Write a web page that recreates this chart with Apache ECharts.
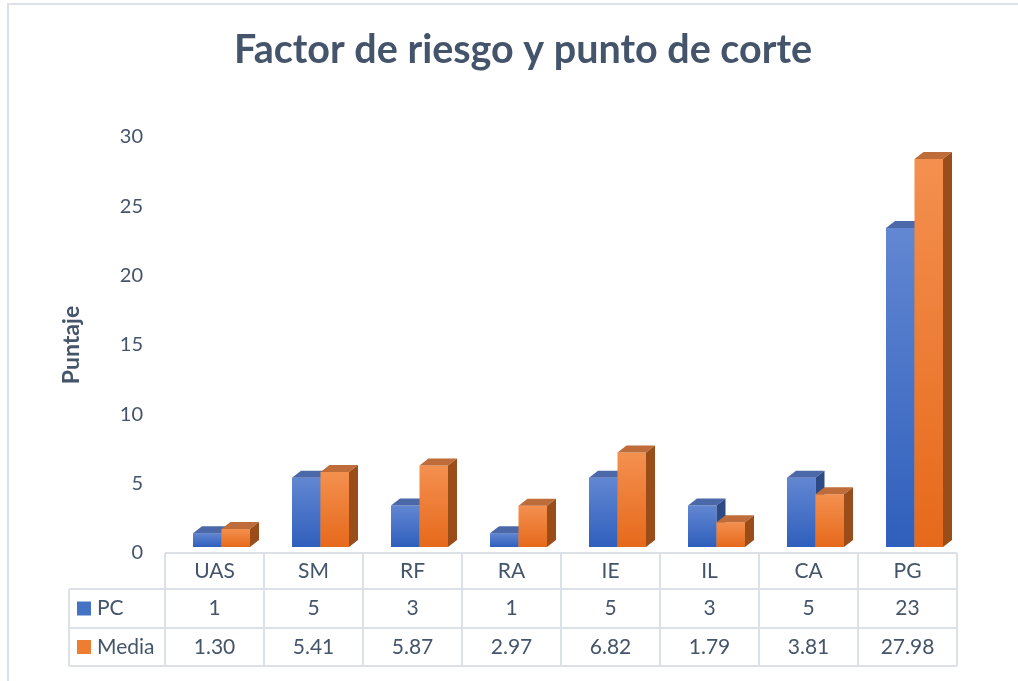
<!DOCTYPE html>
<html>
<head>
<meta charset="utf-8">
<script src="https://cdn.jsdelivr.net/npm/echarts@6/dist/echarts.min.js"></script>
<style>
    html, body { margin: 0; padding: 0; background: #fff; }
    #chart { width: 1018px; height: 681px; }
</style>
</head>
<body>
<div id="chart"></div>
<script>
// datos del gráfico
const categories = ["UAS", "SM", "RF", "RA", "IE", "IL", "CA", "PG"];
const pcValues = [1, 5, 3, 1, 5, 3, 5, 23];
const mediaValues = [1.30, 5.41, 5.87, 2.97, 6.82, 1.79, 3.81, 27.98];
const mediaLabels = ["1.30", "5.41", "5.87", "2.97", "6.82", "1.79", "3.81", "27.98"];
const yTicks = [0, 5, 10, 15, 20, 25, 30];

const textColor = "#44546A";
const lineColor = "#DCE1E8";
const font = "Lato";

// geometría de la tabla (coincide con el grid)
const gridLeft = 165, gridRight = 61, gridTop = 137, gridBottom = 128;
const catW = (1018 - gridLeft - gridRight) / categories.length;
const rowY = [553, 589, 628, 666];
const legendLeft = 69;

// barras 3D: cara frontal, superior y lateral
const depthX = 9, depthY = -7, frontShift = -6, barW = 28.5;

const styles = {
    pc: {
        front: new echarts.graphic.LinearGradient(0, 0, 0, 1, [
            { offset: 0, color: "#6287D2" },
            { offset: 1, color: "#2F5FBC" },
        ]),
        top: "#4B69A8",
        side: "#2D4A86",
        offset: -21.5,
    },
    media: {
        front: new echarts.graphic.LinearGradient(0, 0, 0, 1, [
            { offset: 0, color: "#F4904F" },
            { offset: 1, color: "#E6691B" },
        ]),
        top: "#BE6C3A",
        side: "#9A4D19",
        offset: 7,
    },
};

function bar3d(st) {
    return function (params, api) {
        const idx = api.value(0);
        const top = api.coord([idx, api.value(1)]);
        const base = api.coord([idx, 0]);
        const x0 = top[0] + st.offset;
        const x1 = x0 + barW;
        const yT = top[1] + frontShift;
        const yB = base[1] + frontShift;
        return {
            type: "group",
            children: [
                {
                    type: "polygon",
                    shape: { points: [[x0, yB], [x1, yB], [x1, yT], [x0, yT]] },
                    style: { fill: st.front },
                },
                {
                    type: "polygon",
                    shape: { points: [[x0, yT], [x1, yT], [x1 + depthX, yT + depthY], [x0 + depthX, yT + depthY]] },
                    style: { fill: st.top },
                },
                {
                    type: "polygon",
                    shape: { points: [[x1, yB], [x1 + depthX, yB + depthY], [x1 + depthX, yT + depthY], [x1, yT]] },
                    style: { fill: st.side },
                },
            ],
        };
    };
}

// tabla de datos como elementos gráficos
function buildTable() {
    const els = [];
    const right = gridLeft + catW * categories.length;
    const line = (x1, y1, x2, y2) => ({
        type: "line",
        shape: { x1: x1, y1: y1, x2: x2, y2: y2 },
        style: { stroke: lineColor, lineWidth: 2 },
    });
    els.push(line(gridLeft, rowY[0], right, rowY[0]));
    for (let r = 1; r < rowY.length; r++) els.push(line(legendLeft, rowY[r], right, rowY[r]));
    els.push(line(legendLeft, rowY[1], legendLeft, rowY[3]));
    for (let i = 0; i <= categories.length; i++) {
        const x = gridLeft + i * catW;
        els.push(line(x, rowY[0], x, rowY[3]));
    }
    const cell = (txt, x, y) => ({
        type: "text",
        x: x, y: y,
        style: {
            text: txt, fill: textColor, font: "21px " + font,
            align: "center", verticalAlign: "middle",
        },
    });
    const rows = [categories, pcValues.map(String), mediaLabels];
    rows.forEach((row, r) => {
        const cy = (rowY[r] + rowY[r + 1]) / 2;
        row.forEach((t, i) => els.push(cell(t, gridLeft + (i + 0.5) * catW, cy)));
    });
    // claves de la leyenda
    const keys = [["PC", "#4472C4"], ["Media", "#ED7D31"]];
    keys.forEach((k, r) => {
        const cy = (rowY[r + 1] + rowY[r + 2]) / 2;
        els.push({
            type: "rect",
            shape: { x: legendLeft + 8, y: cy - 7, width: 14, height: 14 },
            style: { fill: k[1] },
        });
        els.push({
            type: "text",
            x: legendLeft + 28, y: cy,
            style: { text: k[0], fill: textColor, font: "21px " + font, verticalAlign: "middle" },
        });
    });
    // borde exterior del área del gráfico
    els.push({
        type: "rect",
        shape: { x: 8, y: 4, width: 1030, height: 700 },
        style: { fill: null, stroke: lineColor, lineWidth: 2 },
        z: -1,
    });
    return els;
}

const chart = echarts.init(document.getElementById("chart"));
chart.setOption({
    animation: false,
    title: {
        text: "Factor de riesgo y punto de corte",
        left: 229,
        top: 25,
        textStyle: { color: textColor, fontFamily: font, fontWeight: "bold", fontSize: 39.5 },
    },
    grid: { left: gridLeft, right: gridRight, top: gridTop, bottom: gridBottom },
    xAxis: {
        type: "category",
        data: categories,
        axisLine: { show: false },
        axisTick: { show: false },
        axisLabel: { show: false },
    },
    yAxis: {
        type: "value",
        min: yTicks[0],
        max: yTicks[yTicks.length - 1],
        interval: 5,
        name: "Puntaje",
        nameLocation: "middle",
        nameGap: 82,
        nameTextStyle: { color: textColor, fontFamily: font, fontWeight: "bold", fontSize: 23 },
        axisLine: { show: false },
        axisTick: { show: false },
        splitLine: { show: false },
        axisLabel: { color: textColor, fontFamily: font, fontSize: 20, margin: 22 },
    },
    series: [
        {
            name: "PC",
            type: "custom",
            renderItem: bar3d(styles.pc),
            data: pcValues.map((v, i) => [i, v]),
        },
        {
            name: "Media",
            type: "custom",
            renderItem: bar3d(styles.media),
            data: mediaValues.map((v, i) => [i, v]),
        },
    ],
    graphic: buildTable(),
});
</script>
</body>
</html>
